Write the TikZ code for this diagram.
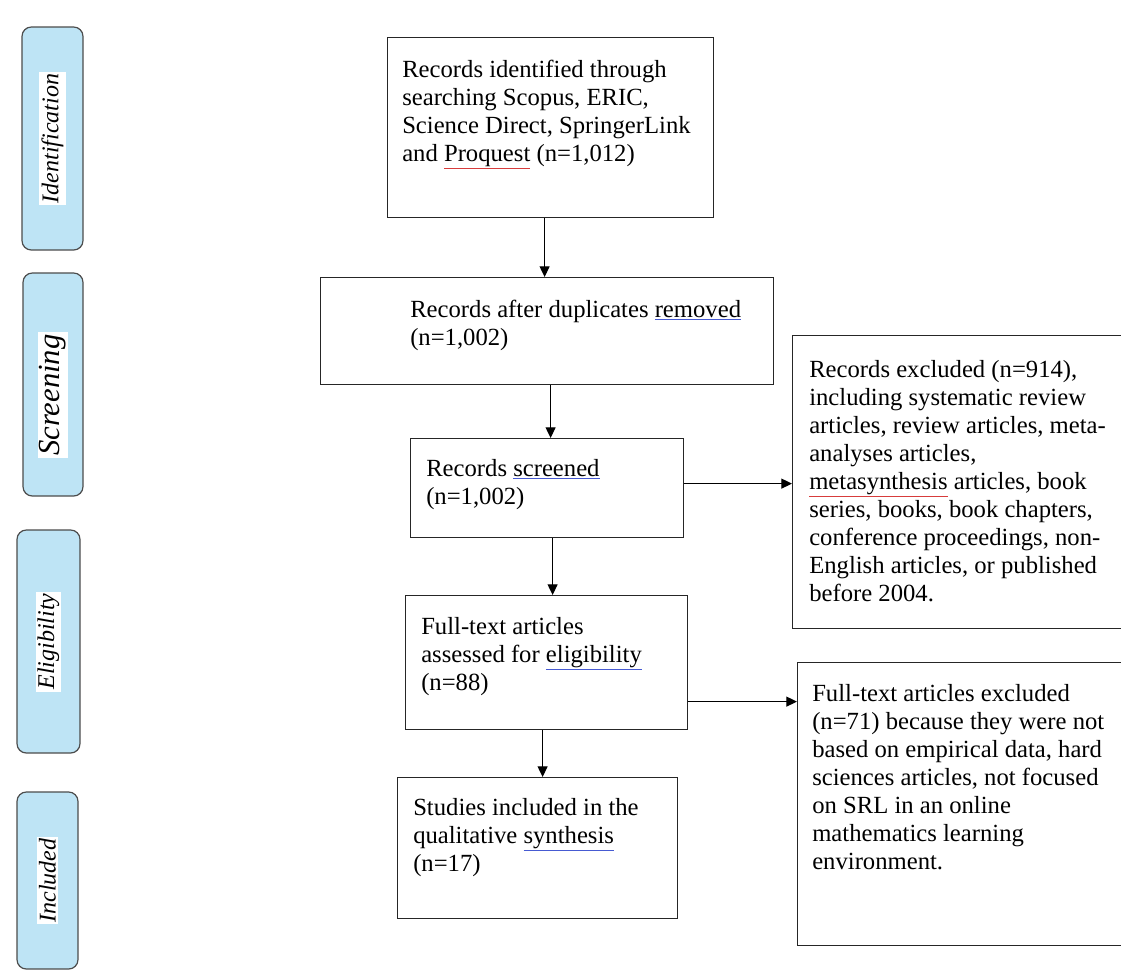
\documentclass[tikz,border=0pt]{standalone}
\usepackage{fontspec}
\setmainfont{Liberation Serif}
\usepackage{xcolor}
\usetikzlibrary{arrows.meta,calc}

\definecolor{stageblue}{RGB}{190,228,245}
\definecolor{ulblue}{RGB}{70,90,210}
\definecolor{ulred}{RGB}{215,60,60}
\newcommand{\blueline}[1]{{\color{ulblue}\underline{\color{black}#1}}}
\newcommand{\redline}[1]{{\color{ulred}\underline{\color{black}#1}}}
\newcommand{\boxfont}{\fontsize{18.5}{21}\selectfont}
\newcommand{\stagefont}{\fontsize{18}{21}\selectfont\itshape}
\newcommand{\stagetext}[1]{{\setlength{\fboxsep}{1.5pt}\colorbox{white}{#1}}}

\begin{document}
\begin{tikzpicture}[x=0.75pt,y=0.75pt,yscale=-1,xscale=1,
	stage/.style={draw=black!70, line width=0.9pt, fill=stageblue, rounded corners=7pt, rotate=90, inner sep=0pt, font=\stagefont},
	frame/.style={draw=black!85, line width=0.9pt, anchor=north west, inner sep=0pt},
	words/.style={anchor=north west, inner sep=0pt, align=left, font=\boxfont},
	flow/.style={-{Triangle[length=8pt,width=7.5pt]}, line width=0.8pt}]
				\useasboundingbox (0,0) rectangle (1121,972);
				\clip (0,0) rectangle (1121,972);
				% stages
				\node [stage, minimum width=167.25pt, minimum height=45.75pt] (ident) at (52.5,138.5) {\stagetext{Identification}};
				\node [stage, minimum width=167.25pt, minimum height=45pt, font=\fontsize{23}{26}\selectfont\itshape] (screen) at (53,384.5) {\stagetext{Screening}\hspace*{16pt}};
				\node [stage, minimum width=167.25pt, minimum height=47.25pt] (elig) at (48.5,641.5) {\stagetext{Eligibility}};
				\node [stage, minimum width=132.75pt, minimum height=45.75pt] (incl) at (47.5,880.5) {\stagetext{Included}};
				% boxes
				\node [frame, minimum width=244.5pt, minimum height=135pt] (records) at (387,37) {};
				\node [frame, minimum width=339.75pt, minimum height=80.25pt] (dedup) at (320,277) {};
				\node [frame, minimum width=204.75pt, minimum height=74.25pt] (screened) at (410,438) {};
				\node [frame, minimum width=211.5pt, minimum height=100.5pt] (fulltext) at (405,595) {};
				\node [frame, minimum width=210pt, minimum height=105.75pt] (included) at (397,777) {};
				\node [frame, minimum width=253.5pt, minimum height=219.75pt] (excluded) at (792,335) {};
				\node [frame, minimum width=249.75pt, minimum height=212.25pt] (ftexcl) at (797,662) {};
				% texts
				\node [words] (records text) at (402,60) {Records identified through\\searching Scopus, ERIC,\\Science Direct, SpringerLink\\and \redline{Proquest} (n=1,012)};
				\node [words] (dedup text) at (410,300) {Records after duplicates \blueline{removed}\\(n=1,002)};
				\node [words] (screened text) at (426,459) {Records \blueline{screened}\\(n=1,002)};
				\node [words] (fulltext text) at (421,617) {Full-text articles\\assessed for \blueline{eligibility}\\(n=88)};
				\node [words] (included text) at (413,798) {Studies included in the\\qualitative \blueline{synthesis}\\(n=17)};
				\node [words] (excluded text) at (809,360) {Records excluded (n=914),\\including systematic review\\articles, review articles, meta-\\analyses articles,\\\redline{metasynthesis} articles, book\\series, books, book chapters,\\conference proceedings, non-\\English articles, or published\\before 2004.};
				\node [words] (ftexcl text) at (812,684) {Full-text articles excluded\\(n=71) because they were not\\based on empirical data, hard\\sciences articles, not focused\\on SRL in an online\\mathematics learning\\environment.};
				% arrows
				\coordinate (a1) at ($(records.south)+(-6,0)$);
				\coordinate (a2) at ($(dedup.south)+(3.5,0)$);
				\coordinate (a3) at ($(screened.south)+(5.5,0)$);
				\coordinate (a4) at ($(fulltext.south)+(-4,0)$);
				\coordinate (b1) at ($(screened.east)+(0,-4.5)$);
				\coordinate (b2) at ($(fulltext.east)+(0,39)$);
				\draw [flow] (a1) -- (a1 |- dedup.north);
				\draw [flow] (a2) -- (a2 |- screened.north);
				\draw [flow] (a3) -- (a3 |- fulltext.north);
				\draw [flow] (a4) -- (a4 |- included.north);
				\draw [flow] (b1) -- (b1 -| excluded.west);
				\draw [flow] (b2) -- (b2 -| ftexcl.west);
\end{tikzpicture}
\end{document}
